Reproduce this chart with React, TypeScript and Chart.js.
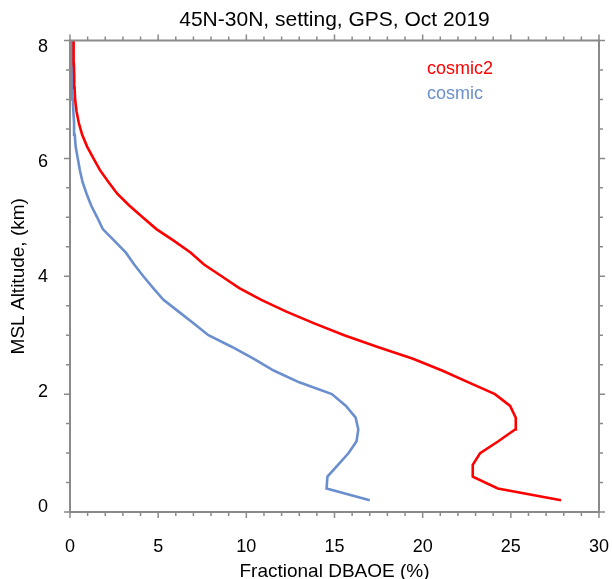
import React, { useEffect, useRef } from 'react';
import { Chart, registerables } from 'chart.js';
Chart.register(...registerables);

const chartTitle = '45N-30N, setting, GPS, Oct 2019';
const xAxisTitle = 'Fractional DBAOE (%)';
const yAxisTitle = 'MSL Altitude, (km)';

const altitudeKm = [
  0.2, 0.4, 0.6, 0.8, 1.0, 1.2, 1.4, 1.6, 1.8, 2.0,
  2.2, 2.4, 2.6, 2.8, 3.0, 3.2, 3.4, 3.6, 3.8, 4.0,
  4.2, 4.4, 4.6, 4.8, 5.0, 5.2, 5.4, 5.6, 5.8, 6.0,
  6.2, 6.4, 6.6, 6.8, 7.0, 7.2, 7.4, 7.6, 7.8, 8.0,
];

const cosmic2 = [
  27.85, 24.26, 22.84, 22.84, 23.26, 24.29, 25.24, 25.28, 24.96, 24.1,
  22.6, 21.1, 19.45, 17.45, 15.55, 13.85, 12.27, 10.85, 9.6, 8.6,
  7.6, 6.85, 5.9, 4.9, 4.12, 3.36, 2.68, 2.18, 1.7, 1.33,
  0.97, 0.69, 0.5, 0.37, 0.29, 0.26, 0.24, 0.22, 0.21, 0.2,
];

const cosmic = [
  17.0, 14.55, 14.6, 15.2, 15.8, 16.25, 16.35, 16.2, 15.65, 14.85,
  13.0, 11.55, 10.43, 9.19, 7.85, 7.02, 6.16, 5.3, 4.72, 4.16,
  3.64, 3.17, 2.52, 1.86, 1.54, 1.2, 0.94, 0.71, 0.56, 0.44,
  0.32, 0.27, 0.23, 0.19, 0.16, 0.14, 0.12, 0.11, 0.1, 0.09,
];

const xTickValues = [0, 5, 10, 15, 20, 25, 30];
const yTickValues = [0, 2, 4, 6, 8];

const seriesNames = ['cosmic2', 'cosmic'];
const seriesColors = ['#ff0000', '#6b8fce'];

const FONT = '"Liberation Sans", Arial, sans-serif';
const AXIS_GRAY = '#8a8a8a';

const zeroPad = (s: any) => {
  s.paddingLeft = 0;
  s.paddingRight = 0;
  s.paddingTop = 0;
  s.paddingBottom = 0;
};

const decorPlugin = {
  id: 'decor',
  afterDatasetsDraw(chart: any) {
    const { ctx, chartArea: ca, scales } = chart;
    const xs = scales.x;
    const ys = scales.y;
    ctx.save();
    ctx.strokeStyle = AXIS_GRAY;
    ctx.lineWidth = 2;
    ctx.strokeRect(ca.left, ca.top, ca.right - ca.left, ca.bottom - ca.top);
    ctx.lineWidth = 1.5;
    ctx.beginPath();
    for (let v = 0; v <= 30; v++) {
      const px = xs.getPixelForValue(v);
      const len = v % 5 === 0 ? 6 : 4;
      ctx.moveTo(px, ca.bottom);
      ctx.lineTo(px, ca.bottom + len);
      ctx.moveTo(px, ca.top);
      ctx.lineTo(px, ca.top - len);
    }
    for (let i = 0; i <= 16; i++) {
      const v = i * 0.5;
      const py = ys.getPixelForValue(v);
      const len = i % 4 === 0 ? 6 : 4;
      ctx.moveTo(ca.left, py);
      ctx.lineTo(ca.left - len, py);
      ctx.moveTo(ca.right, py);
      ctx.lineTo(ca.right + len, py);
    }
    ctx.stroke();
    ctx.fillStyle = '#000';
    ctx.font = `21px ${FONT}`;
    ctx.textAlign = 'center';
    ctx.textBaseline = 'alphabetic';
    ctx.fillText(chartTitle, (ca.left + ca.right) / 2, 26);
    ctx.font = `18px ${FONT}`;
    ctx.textAlign = 'left';
    const lx = ca.left + (ca.right - ca.left) * 0.675;
    seriesNames.forEach((name, i) => {
      ctx.fillStyle = seriesColors[i];
      ctx.fillText(name, lx, ca.top + 33 + i * 25);
    });
    ctx.restore();
  },
};

export default function App() {
  const canvasRef = useRef<HTMLCanvasElement | null>(null);

  useEffect(() => {
    const canvas = canvasRef.current;
    if (!canvas) return;
    const series = [cosmic2, cosmic];
    const chart = new Chart(canvas, {
      type: 'scatter',
      data: {
        datasets: series.map((vals, i) => ({
          label: seriesNames[i],
          data: vals.map((v, k) => ({ x: v, y: altitudeKm[k] })),
          showLine: true,
          borderColor: seriesColors[i],
          backgroundColor: seriesColors[i],
          borderWidth: 2.6,
          pointRadius: 0,
          tension: 0,
          xAxisID: 'x',
          yAxisID: 'y',
        })),
      },
      options: {
        responsive: false,
        animation: false,
        layout: { padding: { left: 0, right: 13, top: 40.5, bottom: 0 } },
        plugins: {
          legend: { display: false },
          title: { display: false },
          tooltip: { enabled: false },
        },
        scales: {
          x: {
            type: 'linear',
            position: 'bottom',
            min: 0,
            max: 30,
            afterBuildTicks: (s: any) => {
              s.ticks = xTickValues.map((v) => ({ value: v }));
            },
            afterFit: (s: any) => {
              s.height = 67;
              zeroPad(s);
            },
            grid: { display: false },
            border: { display: false },
            ticks: {
              color: '#000',
              font: { family: FONT, size: 18 },
              padding: 16,
              maxRotation: 0,
              autoSkip: false,
            },
            title: {
              display: true,
              text: xAxisTitle,
              color: '#000',
              font: { family: FONT, size: 19 },
              padding: { top: 0, bottom: -4 },
            },
          },
          y: {
            type: 'linear',
            min: 0,
            max: 8,
            display: false,
            afterFit: zeroPad,
          },
          yl: {
            type: 'linear',
            position: 'left',
            min: -0.087,
            max: 8.113,
            afterBuildTicks: (s: any) => {
              s.ticks = yTickValues.map((v) => ({ value: v }));
            },
            afterFit: (s: any) => {
              s.width = 70;
              zeroPad(s);
            },
            grid: { display: false },
            border: { display: false },
            ticks: {
              color: '#000',
              font: { family: FONT, size: 18 },
              padding: 14,
              autoSkip: false,
            },
            title: {
              display: true,
              text: yAxisTitle,
              color: '#000',
              font: { family: FONT, size: 19 },
              padding: { top: 7, bottom: 0 },
            },
          },
        },
      } as any,
      plugins: [decorPlugin],
    });
    return () => chart.destroy();
  }, []);

  return (
    <div style={{ position: 'fixed', left: 0, top: 0, width: 612, height: 579, background: '#fff' }}>
      <canvas ref={canvasRef} width={612} height={579} style={{ display: 'block' }} />
    </div>
  );
}
